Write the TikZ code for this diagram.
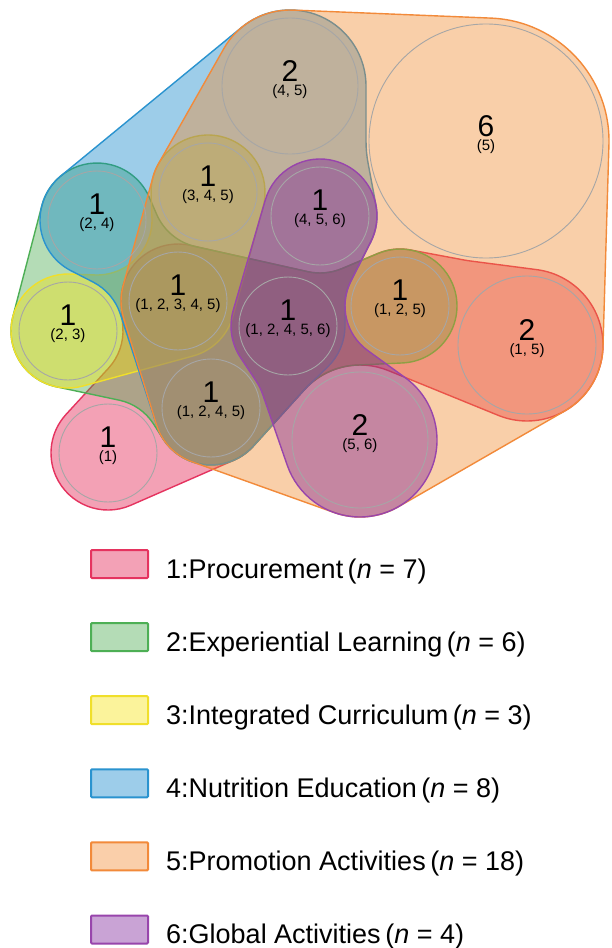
\documentclass[tikz,border=0pt]{standalone}
\usepackage{fontspec}
\setmainfont{Liberation Sans}
\ExplSyntaxOn
\fp_new:N \l__hl_in_fp
\fp_new:N \l__hl_out_fp
\fp_new:N \l__hl_r_fp
\fp_new:N \l__hl_R_fp
\fp_new:N \l__hl_a_fp
\fp_new:N \l__hl_b_fp
\fp_new:N \l__hl_t_fp
\fp_new:N \l__hl_dx_fp
\fp_new:N \l__hl_dy_fp
\int_new:N \l__hl_n_int
\int_new:N \l__hl_j_int
\seq_new:N \l__hl_seq
\tl_new:N \l__hl_item_tl
\tl_new:N \g__hl_path_tl
\cs_new_protected:Npn \__hl_build:n #1
 {
  \seq_set_from_clist:Nn \l__hl_seq { #1 }
  \int_set:Nn \l__hl_n_int { \seq_count:N \l__hl_seq }
  \int_step_inline:nn { \l__hl_n_int }
   {
    \tl_set:Nx \l__hl_item_tl { \seq_item:Nn \l__hl_seq { ##1 } }
    \fp_zero_new:c { l__hl_x_ ##1 _fp }
    \fp_zero_new:c { l__hl_y_ ##1 _fp }
    \fp_zero_new:c { l__hl_rr_ ##1 _fp }
    \fp_zero_new:c { l__hl_phi_ ##1 _fp }
    \fp_set:cn { l__hl_x_ ##1 _fp } { \exp_after:wN \use_i:nnn \l__hl_item_tl }
    \fp_set:cn { l__hl_y_ ##1 _fp } { \exp_after:wN \use_ii:nnn \l__hl_item_tl }
    \fp_set:cn { l__hl_rr_ ##1 _fp } { \exp_after:wN \use_iii:nnn \l__hl_item_tl }
   }
  \int_step_inline:nn { \l__hl_n_int }
   {
    \int_set:Nn \l__hl_j_int { \int_mod:nn { ##1 } { \l__hl_n_int } + 1 }
    \fp_set:Nn \l__hl_dx_fp { ( \fp_use:c { l__hl_x_ \int_use:N \l__hl_j_int _fp } ) - ( \fp_use:c { l__hl_x_ ##1 _fp } ) }
    \fp_set:Nn \l__hl_dy_fp { ( \fp_use:c { l__hl_y_ \int_use:N \l__hl_j_int _fp } ) - ( \fp_use:c { l__hl_y_ ##1 _fp } ) }
    \fp_set:cn { l__hl_phi_ ##1 _fp }
     {
      atand ( \l__hl_dy_fp , \l__hl_dx_fp ) - 90
      + asind ( ( ( \fp_use:c { l__hl_rr_ ##1 _fp } ) - ( \fp_use:c { l__hl_rr_ \int_use:N \l__hl_j_int _fp } ) )
                / sqrt ( \l__hl_dx_fp * \l__hl_dx_fp + \l__hl_dy_fp * \l__hl_dy_fp ) )
     }
   }
  \tl_gclear:N \g__hl_path_tl
  \int_step_inline:nn { \l__hl_n_int }
   {
    \int_set:Nn \l__hl_j_int { \int_mod:nn { ##1 + \l__hl_n_int - 2 } { \l__hl_n_int } + 1 }
    \fp_set:Nn \l__hl_in_fp { \fp_use:c { l__hl_phi_ \int_use:N \l__hl_j_int _fp } }
    \fp_set:Nn \l__hl_out_fp { \fp_use:c { l__hl_phi_ ##1 _fp } }
    \fp_set:Nn \l__hl_r_fp { \fp_use:c { l__hl_rr_ ##1 _fp } }
    \fp_set:Nn \l__hl_R_fp { abs ( \l__hl_r_fp ) }
    \fp_compare:nNnTF { \l__hl_r_fp } > { 0 }
     {
      \fp_set:Nn \l__hl_a_fp { \l__hl_in_fp }
      \fp_set:Nn \l__hl_t_fp { \l__hl_out_fp - \l__hl_in_fp }
      \fp_set:Nn \l__hl_t_fp { \l__hl_t_fp - 360 * floor ( \l__hl_t_fp / 360 ) }
      \fp_compare:nNnT { \l__hl_t_fp } > { 300 } { \fp_zero:N \l__hl_t_fp }
      \fp_set:Nn \l__hl_b_fp { \l__hl_a_fp + \l__hl_t_fp }
     }
     {
      \fp_set:Nn \l__hl_a_fp { \l__hl_in_fp + 180 }
      \fp_set:Nn \l__hl_t_fp { \l__hl_in_fp - \l__hl_out_fp }
      \fp_set:Nn \l__hl_t_fp { \l__hl_t_fp - 360 * floor ( \l__hl_t_fp / 360 ) }
      \fp_compare:nNnT { \l__hl_t_fp } > { 300 } { \fp_zero:N \l__hl_t_fp }
      \fp_set:Nn \l__hl_b_fp { \l__hl_a_fp - \l__hl_t_fp }
     }
    \tl_gput_right:Nx \g__hl_path_tl
     {
      \int_compare:nNnF { ##1 } = { 1 } { -- ~ }
      ( \fp_eval:n { round ( ( \fp_use:c { l__hl_x_ ##1 _fp } ) + \l__hl_R_fp * cosd ( \l__hl_a_fp ) , 3 ) } ,
        \fp_eval:n { round ( ( \fp_use:c { l__hl_y_ ##1 _fp } ) + \l__hl_R_fp * sind ( \l__hl_a_fp ) , 3 ) } )
      ~ arc ~ [ start~angle = \fp_eval:n { round ( \l__hl_a_fp , 3 ) } ,
                end~angle = \fp_eval:n { round ( \l__hl_b_fp , 3 ) } ,
                radius = \fp_eval:n { round ( \l__hl_R_fp , 3 ) } ] ~
     }
   }
  \tl_gput_right:Nn \g__hl_path_tl { -- ~ cycle }
 }
\NewDocumentCommand \hullpath { m m }
 {
  \__hl_build:n { #2 }
  \use:x { \exp_not:N \path [ \exp_not:n { #1 } ] \exp_not:V \g__hl_path_tl ; }
 }
\ExplSyntaxOff
\definecolor{f1}{HTML}{E11448}
\definecolor{l1}{HTML}{E5335F}
\definecolor{f2}{HTML}{44A849}
\definecolor{l2}{HTML}{4DAF55}
\definecolor{f3}{HTML}{F5E105}
\definecolor{l3}{HTML}{F0DF2A}
\definecolor{f4}{HTML}{0A82CA}
\definecolor{l4}{HTML}{2A93CF}
\definecolor{f5}{HTML}{F2872A}
\definecolor{l5}{HTML}{F28A3A}
\definecolor{f6}{HTML}{781996}
\definecolor{l6}{HTML}{9845AC}
\definecolor{gc}{HTML}{A6A6A6}
\tikzset{
  set1/.style={fill=f1, fill opacity=0.4, draw=l1, line width=1.4pt, line join=round},
  set2/.style={fill=f2, fill opacity=0.4, draw=l2, line width=1.4pt, line join=round},
  set3/.style={fill=f3, fill opacity=0.4, draw=l3, line width=1.4pt, line join=round},
  set4/.style={fill=f4, fill opacity=0.4, draw=l4, line width=1.4pt, line join=round},
  set5/.style={fill=f5, fill opacity=0.4, draw=l5, line width=1.4pt, line join=round},
  set6/.style={fill=f6, fill opacity=0.4, draw=l6, line width=1.4pt, line join=round},
  elem/.style={circle, draw=gc, line width=0.9pt, inner sep=0pt, outer sep=0pt},
  cnt/.style={font=\fontsize{30}{30}\selectfont, inner sep=0pt, text=black},
  lab/.style={font=\fontsize{15}{15}\selectfont, inner sep=0pt, text=black},
  lbox/.style={minimum width=57pt, minimum height=28pt, line width=2pt, inner sep=0pt, rounded corners=1pt},
  ltext/.style={font=\fontsize{27}{27}\selectfont, inner sep=0pt, anchor=base west, text=black},
}
\begin{document}
\begin{tikzpicture}[x=1pt,y=-1pt]
\fill[white] (0,0) rectangle (611,948);
\useasboundingbox (0,0) rectangle (611,948);
% set 1 Procurement
\hullpath{set1}{{108}{453}{57},{68}{331}{-55},{178}{301}{57},{320}{216}{-57},{400}{306}{57},{486}{141}{-121},{527}{345}{76},{360}{440}{-75},{211}{408}{57}}
% set 2 Experiential Learning
\hullpath{set2}{{97}{220}{57},{208}{192}{-56},{320}{216}{-57},{400}{306}{57},{360}{440}{-75},{211}{408}{57},{108}{453}{-54},{68}{331}{57}}
% set 3 Integrated Curriculum
\hullpath{set3}{{68}{331}{57},{97}{220}{-55},{208}{192}{57},{178}{301}{57}}
% set 4 Nutrition Education
\hullpath{set4}{{290}{86}{76},{486}{141}{-120},{320}{216}{57},{400}{306}{-55},{288}{326}{57},{360}{440}{-75},{211}{408}{57},{68}{331}{-55},{97}{220}{57}}
% set 5 Promotion Activities
\hullpath{set5}{{290}{86}{76},{486}{141}{123},{527}{345}{76},{360}{440}{77},{211}{408}{57},{178}{301}{57},{208}{192}{57}}
% set 6 Global Activities
\hullpath{set6}{{320}{216}{57},{400}{306}{-55},{360}{440}{77},{206}{414}{-60},{288}{326}{57}}
% element circles
\node[elem, minimum size=136pt] (eA) at (290,86) {};
\node[elem, minimum size=234pt] (eB) at (486,141) {};
\node[elem, minimum size=98pt] (eC) at (97,220) {};
\node[elem, minimum size=98pt] (eD) at (208,192) {};
\node[elem, minimum size=98pt] (eE) at (320,216) {};
\node[elem, minimum size=98pt] (eF) at (68,331) {};
\node[elem, minimum size=98pt] (eG) at (178,301) {};
\node[elem, minimum size=98pt] (eH) at (288,326) {};
\node[elem, minimum size=98pt] (eI) at (400,306) {};
\node[elem, minimum size=138pt] (eJ) at (527,345) {};
\node[elem, minimum size=98pt] (eK) at (211,408) {};
\node[elem, minimum size=98pt] (eL) at (108,453) {};
\node[elem, minimum size=136pt] (eM) at (360,440) {};
% counts and labels
\node[cnt] (nA) at ([yshift=15pt]eA.center) {2};
\node[lab] (lA) at ([yshift=-6pt]eA.center) {(4, 5)};
\node[cnt] (nB) at ([yshift=15pt]eB.center) {6};
\node[lab] (lB) at ([yshift=-6pt]eB.center) {(5)};
\node[cnt] (nC) at ([yshift=16pt]eC.center) {1};
\node[lab] (lC) at ([yshift=-5pt]eC.center) {(2, 4)};
\node[cnt] (nD) at ([yshift=16pt]eD.center) {1};
\node[lab] (lD) at ([yshift=-5pt]eD.center) {(3, 4, 5)};
\node[cnt] (nE) at ([yshift=16pt]eE.center) {1};
\node[lab] (lE) at ([yshift=-5pt]eE.center) {(4, 5, 6)};
\node[cnt] (nF) at ([yshift=16pt]eF.center) {1};
\node[lab] (lF) at ([yshift=-5pt]eF.center) {(2, 3)};
\node[cnt] (nG) at ([yshift=16pt]eG.center) {1};
\node[lab] (lG) at ([yshift=-5pt]eG.center) {(1, 2, 3, 4, 5)};
\node[cnt] (nH) at ([yshift=16pt]eH.center) {1};
\node[lab] (lH) at ([yshift=-5pt]eH.center) {(1, 2, 4, 5, 6)};
\node[cnt] (nI) at ([yshift=16pt]eI.center) {1};
\node[lab] (lI) at ([yshift=-5pt]eI.center) {(1, 2, 5)};
\node[cnt] (nJ) at ([yshift=15pt]eJ.center) {2};
\node[lab] (lJ) at ([yshift=-6pt]eJ.center) {(1, 5)};
\node[cnt] (nK) at ([yshift=16pt]eK.center) {1};
\node[lab] (lK) at ([yshift=-5pt]eK.center) {(1, 2, 4, 5)};
\node[cnt] (nL) at ([yshift=16pt]eL.center) {1};
\node[lab] (lL) at ([yshift=-5pt]eL.center) {(1)};
\node[cnt] (nM) at ([yshift=15pt]eM.center) {2};
\node[lab] (lM) at ([yshift=-6pt]eM.center) {(5, 6)};
% legend
\node[lbox, draw=l1, fill=f1!40] (b1) at (119.5,564) {};
\node[ltext] (t1) at (166,578) {1:Procurement\,(\textit{n} = 7)};
\node[lbox, draw=l2, fill=f2!40] (b2) at (119.5,637.1) {};
\node[ltext] (t2) at (166,651.1) {2:Experiential Learning\,(\textit{n} = 6)};
\node[lbox, draw=l3, fill=f3!40] (b3) at (119.5,710.2) {};
\node[ltext] (t3) at (166,724.2) {3:Integrated Curriculum\,(\textit{n} = 3)};
\node[lbox, draw=l4, fill=f4!40] (b4) at (119.5,783.3) {};
\node[ltext] (t4) at (166,797.3) {4:Nutrition Education\,(\textit{n} = 8)};
\node[lbox, draw=l5, fill=f5!40] (b5) at (119.5,856.4) {};
\node[ltext] (t5) at (166,870.4) {5:Promotion Activities\,(\textit{n} = 18)};
\node[lbox, draw=l6, fill=f6!40] (b6) at (119.5,929.5) {};
\node[ltext] (t6) at (166,943.5) {6:Global Activities\,(\textit{n} = 4)};
\end{tikzpicture}
\end{document}
